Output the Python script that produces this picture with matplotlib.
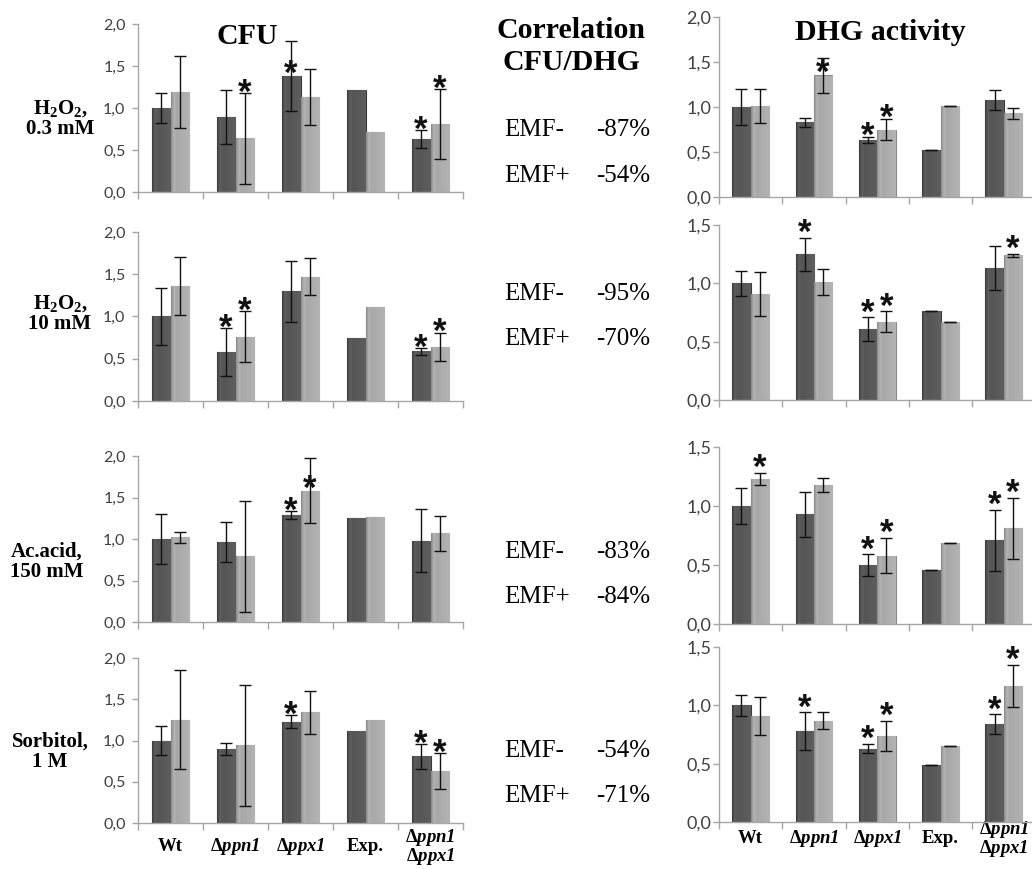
import matplotlib
matplotlib.use("Agg")
import matplotlib.pyplot as plt
import numpy as np
from matplotlib.colors import LinearSegmentedColormap

plt.rcParams['mathtext.fontset'] = 'custom'
plt.rcParams['mathtext.rm'] = 'Liberation Serif:italic:bold'
plt.rcParams['mathtext.it'] = 'Liberation Serif:italic:bold'
plt.rcParams['mathtext.bf'] = 'Liberation Serif:bold'

# ---------------- data ----------------
categories = ['Wt', 'Δ$ppn1$', 'Δ$ppx1$', 'Exp.', 'Δ$ppn1$\nΔ$ppx1$']
row_labels = ['H$_\\mathbf{2}$O$_\\mathbf{2}$,\n0.3 mM', 'H$_\\mathbf{2}$O$_\\mathbf{2}$,\n10 mM',
              'Ac.acid,\n150 mM', 'Sorbitol,\n1 M']

# CFU (left column): EMF- (dark) and EMF+ (light)
cfu_dark = [
    [1.00, 0.89, 1.38, 1.22, 0.63],
    [1.00, 0.58, 1.30, 0.75, 0.59],
    [1.00, 0.96, 1.29, 1.25, 0.98],
    [1.00, 0.90, 1.23, 1.12, 0.81],
]
cfu_dark_err = [
    [0.18, 0.32, 0.42, 0.00, 0.11],
    [0.34, 0.28, 0.36, 0.00, 0.04],
    [0.30, 0.24, 0.05, 0.00, 0.38],
    [0.17, 0.075, 0.08, 0.00, 0.15],
]
cfu_light = [
    [1.19, 0.64, 1.13, 0.72, 0.81],
    [1.36, 0.76, 1.47, 1.11, 0.64],
    [1.02, 0.79, 1.58, 1.26, 1.07],
    [1.25, 0.94, 1.34, 1.25, 0.63],
]
cfu_light_err = [
    [0.43, 0.54, 0.33, 0.00, 0.42],
    [0.34, 0.30, 0.22, 0.00, 0.17],
    [0.07, 0.67, 0.39, 0.00, 0.21],
    [0.60, 0.73, 0.26, 0.00, 0.22],
]
# significance marks: 0 none, 1 above error bar, 2 over the bar (error bar too tall)
cfu_dark_star = [[0, 0, 2, 0, 1], [0, 1, 0, 0, 1], [0, 0, 1, 0, 0], [0, 0, 1, 0, 1]]
cfu_light_star = [[0, 1, 0, 0, 1], [0, 1, 0, 0, 1], [0, 0, 2, 0, 0], [0, 0, 0, 0, 1]]

# DHG activity (right column)
dhg_dark = [
    [1.00, 0.83, 0.63, 0.52, 1.08],
    [1.00, 1.25, 0.61, 0.76, 1.13],
    [1.00, 0.93, 0.50, 0.46, 0.71],
    [1.00, 0.78, 0.63, 0.49, 0.84],
]
dhg_dark_err = [
    [0.20, 0.05, 0.035, 0.00, 0.11],
    [0.11, 0.14, 0.10, 0.00, 0.19],
    [0.15, 0.19, 0.09, 0.00, 0.26],
    [0.09, 0.16, 0.04, 0.00, 0.085],
]
dhg_light = [
    [1.01, 1.35, 0.75, 1.01, 0.93],
    [0.91, 1.01, 0.67, 0.67, 1.24],
    [1.23, 1.18, 0.58, 0.69, 0.81],
    [0.91, 0.87, 0.74, 0.65, 1.17],
]
dhg_light_err = [
    [0.19, 0.20, 0.12, 0.00, 0.06],
    [0.19, 0.11, 0.09, 0.00, 0.015],
    [0.05, 0.06, 0.15, 0.00, 0.26],
    [0.16, 0.07, 0.13, 0.00, 0.18],
]
dhg_dark_star = [[0, 0, 1, 0, 0], [0, 1, 1, 0, 0], [0, 0, 1, 0, 1], [0, 1, 1, 0, 1]]
dhg_light_star = [[0, 2, 1, 0, 0], [0, 0, 1, 0, 1], [1, 0, 1, 0, 1], [0, 0, 1, 0, 1]]

cfu_ymax = [2.0, 2.0, 2.0, 2.0]
dhg_ymax = [2.0, 1.5, 1.5, 1.5]

corr_minus = ['-87%', '-95%', '-83%', '-54%']
corr_plus = ['-54%', '-70%', '-84%', '-71%']

# ---------------- layout ----------------
W, H = 1032, 869
fig = plt.figure(figsize=(W / 100, H / 100), dpi=100)


def px_axes(left, top, right, bottom):
    return fig.add_axes([left / W, 1 - bottom / H, (right - left) / W, (bottom - top) / H])


left_rows = [(24, 192), (232, 401), (456, 622), (658, 823)]
right_rows = [(17, 197), (225, 400), (447, 624), (647, 822)]

cmap_dark = LinearSegmentedColormap.from_list('d', ['#3c3c3c', '#5e5e5e', '#555555'])
cmap_light = LinearSegmentedColormap.from_list('l', ['#8a8a8a', '#b4b4b4', '#a8a8a8'])
prof = np.concatenate([np.linspace(0, 1, 20), np.linspace(1, 0.5, 44)])[None, :]

SPINE = '#a6a6a6'


def shade(ax, bars, cmap):
    for b in bars:
        x0, y0 = b.get_xy()
        w, h = b.get_width(), b.get_height()
        im = ax.imshow(prof, extent=(x0, x0 + w, y0, y0 + h), aspect='auto', cmap=cmap,
                       vmin=0, vmax=1, zorder=2.1, interpolation='bilinear')
        im.set_clip_path(b)


def panel(ax, dark, dark_err, light, light_err, dstar, lstar, ymax, tick_fs, tick_pad,
          zero_caps, label_pad, show_labels):
    x = np.arange(len(dark)) + 0.5
    bw = 0.29
    bd = ax.bar(x - bw / 2, dark, bw, color='#555555', edgecolor='#3a3a3a', linewidth=0.8, zorder=2)
    bl = ax.bar(x + bw / 2, light, bw, color='#a8a8a8', edgecolor='#8a8a8a', linewidth=0.8, zorder=2)
    shade(ax, bd, cmap_dark)
    shade(ax, bl, cmap_light)
    for xs, vals, errs in ((x - bw / 2, dark, dark_err), (x + bw / 2, light, light_err)):
        vals = np.asarray(vals)
        errs = np.asarray(errs)
        m = np.ones(len(vals), bool) if zero_caps else errs > 0
        ax.errorbar(xs[m], vals[m], yerr=errs[m], fmt='none', ecolor='#111111',
                    elinewidth=1.0, capsize=4, capthick=1.0, zorder=3)
    for xs, vals, errs, stars in ((x - bw / 2, dark, dark_err, dstar), (x + bw / 2, light, light_err, lstar)):
        for xi, v, e, s in zip(xs, vals, errs, stars):
            if s == 0:
                continue
            y = v + e + 0.13 if s == 1 else v + 0.15
            ax.annotate('*', (xi, y), xytext=(0, -8), textcoords='offset points', ha='center',
                        va='center', fontsize=25, fontweight='bold', family='Liberation Sans',
                        color='#111111', zorder=4, annotation_clip=False)
    ax.set_xlim(0, len(dark))
    ax.set_ylim(0, ymax)
    ax.set_yticks(np.arange(0, ymax + 0.01, 0.5))
    ax.set_yticklabels([f'{t:.1f}'.replace('.', ',') for t in np.arange(0, ymax + 0.01, 0.5)],
                       fontsize=tick_fs, family='Lato', color='#404040')
    ax.set_xticks(np.arange(len(dark) + 1), minor=True)
    ax.set_xticks(x)
    if show_labels:
        ax.set_xticklabels(categories, fontsize=13.5, family='Liberation Serif', fontweight='bold',
                           va='center', linespacing=0.88)
    else:
        ax.set_xticklabels([])
    ax.tick_params(axis='x', which='major', length=0, pad=label_pad)
    ax.tick_params(axis='x', which='minor', length=5, color=SPINE, width=1)
    ax.tick_params(axis='y', length=4, color=SPINE, width=1, pad=tick_pad)
    for sp in ('top', 'right'):
        ax.spines[sp].set_visible(False)
    for sp in ('left', 'bottom'):
        ax.spines[sp].set_color(SPINE)
        ax.spines[sp].set_linewidth(1)
    ax.set_facecolor('none')


for i in range(4):
    t, b = left_rows[i]
    ax = px_axes(138, t, 463, b)
    panel(ax, cfu_dark[i], cfu_dark_err[i], cfu_light[i], cfu_light_err[i],
          cfu_dark_star[i], cfu_light_star[i], cfu_ymax[i], 11.5, 5, False, 17, i == 3)
    t, b = right_rows[i]
    ax = px_axes(719, t, 1035.5, b)
    panel(ax, dhg_dark[i], dhg_dark_err[i], dhg_light[i], dhg_light_err[i],
          dhg_dark_star[i], dhg_light_star[i], dhg_ymax[i], 13, 1.5, True, 12, i == 3)

# titles
fig.text(247 / W, 1 - 37 / H, 'CFU', ha='center', va='center', fontsize=21.5,
         family='Liberation Serif', fontweight='bold')
fig.text(880 / W, 1 - 33 / H, 'DHG activity', ha='center', va='center', fontsize=21.5,
         family='Liberation Serif', fontweight='bold')
fig.text(571 / W, 1 - 31 / H, 'Correlation', ha='center', va='center', fontsize=21.5,
         family='Liberation Serif', fontweight='bold')
fig.text(571 / W, 1 - 62 / H, 'CFU/DHG', ha='center', va='center', fontsize=21.5,
         family='Liberation Serif', fontweight='bold')

# row labels
row_x = [60, 60, 47, 50]
row_y = [119, 314, 562, 752]
for lab, rx, ry in zip(row_labels, row_x, row_y):
    fig.text(rx / W, 1 - ry / H, lab, ha='center', va='center', fontsize=15,
             family='Liberation Serif', fontweight='bold', linespacing=1.0)

# correlation values
emf_y = [(130, 176), (294, 339), (552, 597), (751, 796)]
for (y1, y2), cm, cp in zip(emf_y, corr_minus, corr_plus):
    fig.text(504 / W, 1 - y1 / H, 'EMF-', ha='left', va='center', fontsize=18, family='Liberation Serif')
    fig.text(650 / W, 1 - y1 / H, cm, ha='right', va='center', fontsize=18, family='Liberation Serif')
    fig.text(504 / W, 1 - y2 / H, 'EMF+', ha='left', va='center', fontsize=18, family='Liberation Serif')
    fig.text(650 / W, 1 - y2 / H, cp, ha='right', va='center', fontsize=18, family='Liberation Serif')

fig.savefig('out.png', dpi=100, facecolor='white')
